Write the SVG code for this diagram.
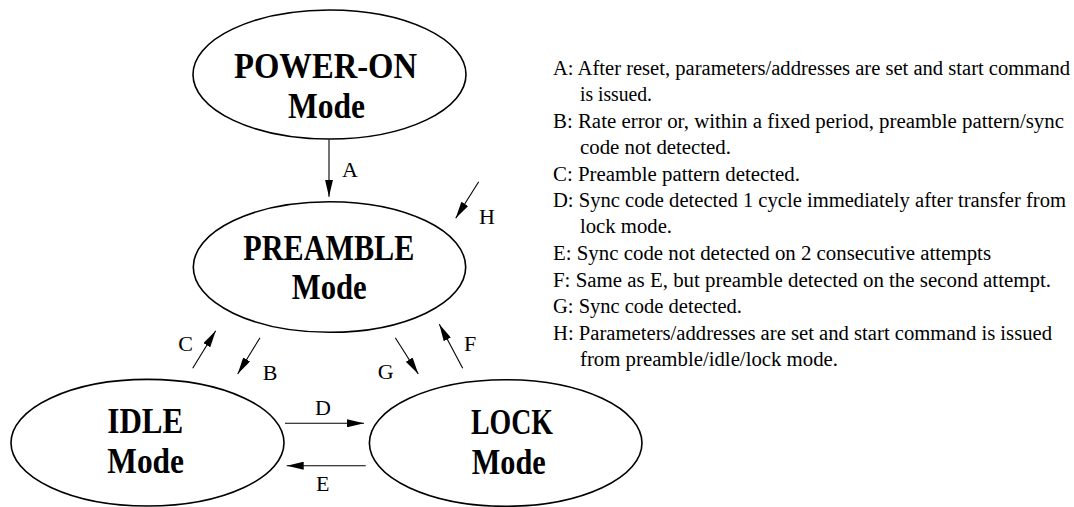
<svg xmlns="http://www.w3.org/2000/svg" width="1074" height="507" viewBox="0 0 1074 507">
<style>
.node ellipse{fill:#fff;stroke:#000;stroke-width:1.6}
.nt{font-family:"Liberation Serif","Times New Roman",serif;font-weight:bold;font-size:36px;fill:#000}
.lbl{font-family:"Liberation Serif","Times New Roman",serif;font-size:22px;fill:#000}
.leg{font-family:"Liberation Serif","Times New Roman",serif;font-size:20.5px;fill:#000}
.conn line{stroke:#000;stroke-width:1.1;marker-end:url(#ah)}
</style>
<defs>
<marker id="ah" markerUnits="userSpaceOnUse" markerWidth="17" markerHeight="8" refX="17" refY="4" orient="auto" viewBox="0 0 17 8">
<path d="M0,0 L17,4 L0,8 z" fill="#000"/>
</marker>
</defs>
<rect width="1074" height="507" fill="#fff"/>
<g id="node-poweron" class="node">
<ellipse cx="329.5" cy="74.5" rx="136.5" ry="64.5"/>
<text class="nt" x="234" y="78" textLength="183" lengthAdjust="spacingAndGlyphs">POWER-ON</text>
<text class="nt" x="288" y="118" textLength="77" lengthAdjust="spacingAndGlyphs">Mode</text>
</g>
<g id="node-preamble" class="node">
<ellipse cx="329.5" cy="267" rx="136.2" ry="65.3"/>
<text class="nt" x="243.3" y="260" textLength="171" lengthAdjust="spacingAndGlyphs">PREAMBLE</text>
<text class="nt" x="291.7" y="299.3" textLength="75" lengthAdjust="spacingAndGlyphs">Mode</text>
</g>
<g id="node-idle" class="node">
<ellipse cx="147.5" cy="442.7" rx="136.5" ry="63.3"/>
<text class="nt" x="107.3" y="433.3" textLength="76" lengthAdjust="spacingAndGlyphs">IDLE</text>
<text class="nt" x="107.3" y="473.3" textLength="76.7" lengthAdjust="spacingAndGlyphs">Mode</text>
</g>
<g id="node-lock" class="node">
<ellipse cx="505.7" cy="443" rx="136.3" ry="63.3"/>
<text class="nt" x="471" y="434" textLength="82" lengthAdjust="spacingAndGlyphs">LOCK</text>
<text class="nt" x="471.7" y="474" textLength="74" lengthAdjust="spacingAndGlyphs">Mode</text>
</g>
<g id="connectors" class="conn">
<line x1="329" y1="139.5" x2="329" y2="196.7"/>
<line x1="478.7" y1="181.7" x2="455.7" y2="218.3"/>
<line x1="192.7" y1="368.3" x2="215.7" y2="330.7"/>
<line x1="260" y1="337.7" x2="237.7" y2="374"/>
<line x1="395.3" y1="337.7" x2="418.3" y2="374"/>
<line x1="462.7" y1="368.3" x2="439.3" y2="324.3"/>
<line x1="285" y1="423.3" x2="364" y2="423.3"/>
<line x1="365.7" y1="465.7" x2="286.7" y2="465.7"/>
</g>
<g id="connector-labels">
<text class="lbl" x="342" y="177">A</text>
<text class="lbl" x="479" y="224">H</text>
<text class="lbl" x="178.3" y="350.7">C</text>
<text class="lbl" x="262.7" y="380">B</text>
<text class="lbl" x="377.7" y="379.3">G</text>
<text class="lbl" x="464" y="351">F</text>
<text class="lbl" x="315" y="415">D</text>
<text class="lbl" x="316" y="490.7">E</text>
</g>
<g id="legend">
<text class="leg" x="553" y="75" textLength="517" lengthAdjust="spacingAndGlyphs">A: After reset, parameters/addresses are set and start command</text>
<text class="leg" x="580" y="100.5" textLength="72" lengthAdjust="spacingAndGlyphs">is issued.</text>
<text class="leg" x="553" y="127.5" textLength="511" lengthAdjust="spacingAndGlyphs">B: Rate error or, within a fixed period, preamble pattern/sync</text>
<text class="leg" x="580" y="153.5" textLength="151" lengthAdjust="spacingAndGlyphs">code not detected.</text>
<text class="leg" x="553" y="180.5" textLength="247" lengthAdjust="spacingAndGlyphs">C: Preamble pattern detected.</text>
<text class="leg" x="553" y="207" textLength="513" lengthAdjust="spacingAndGlyphs">D: Sync code detected 1 cycle immediately after transfer from</text>
<text class="leg" x="580" y="233" textLength="92" lengthAdjust="spacingAndGlyphs">lock mode.</text>
<text class="leg" x="553" y="260" textLength="438" lengthAdjust="spacingAndGlyphs">E: Sync code not detected on 2 consecutive attempts</text>
<text class="leg" x="553" y="286.5" textLength="498" lengthAdjust="spacingAndGlyphs">F: Same as E, but preamble detected on the second attempt.</text>
<text class="leg" x="553" y="313" textLength="189" lengthAdjust="spacingAndGlyphs">G: Sync code detected.</text>
<text class="leg" x="553" y="339.5" textLength="499" lengthAdjust="spacingAndGlyphs">H: Parameters/addresses are set and start command is issued</text>
<text class="leg" x="580" y="365.5" textLength="258" lengthAdjust="spacingAndGlyphs">from preamble/idle/lock mode.</text>
</g>
</svg>
